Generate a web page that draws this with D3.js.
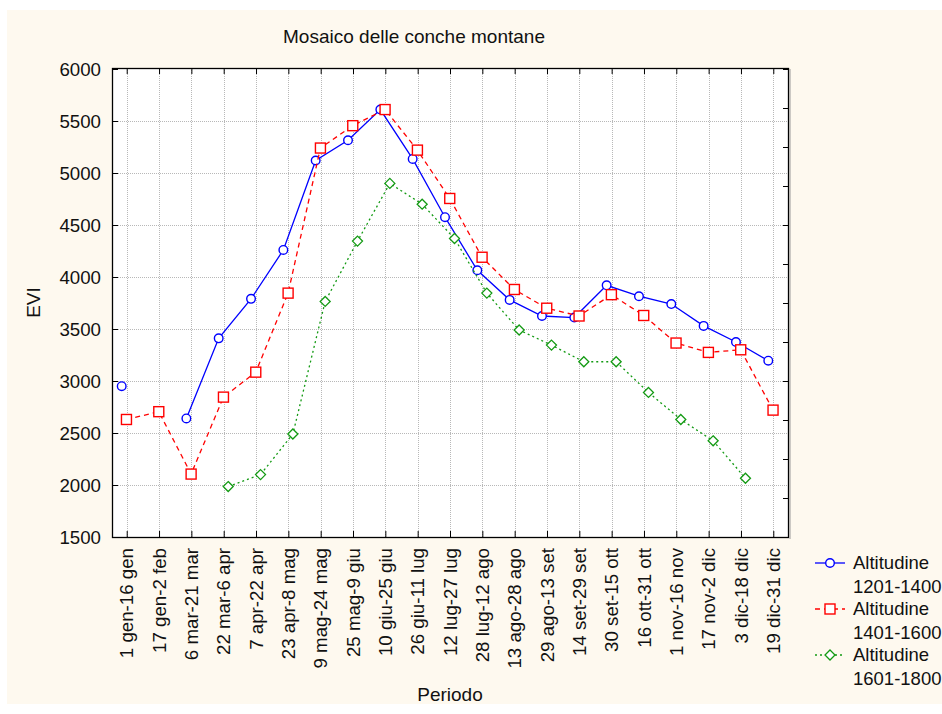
<!DOCTYPE html>
<html>
<head>
<meta charset="utf-8">
<script src="https://cdn.jsdelivr.net/npm/d3@7"></script>
<style>
  html, body { margin: 0; padding: 0; background: #ffffff; }
  svg { display: block; font-family: "Liberation Sans", Arial, sans-serif; }
</style>
</head>
<body>
<svg id="chart" width="942" height="714"></svg>
<script>
const categories = ["1 gen-16 gen","17 gen-2 feb","6 mar-21 mar","22 mar-6 apr","7 apr-22 apr","23 apr-8 mag","9 mag-24 mag","25 mag-9 giu","10 giu-25 giu","26 giu-11 lug","12 lug-27 lug","28 lug-12 ago","13 ago-28 ago","29 ago-13 set","14 set-29 set","30 set-15 ott","16 ott-31 ott","1 nov-16 nov","17 nov-2 dic","3 dic-18 dic","19 dic-31 dic"];
const alt1201 = [2950, null, 2640, 3410, 3790, 4260, 5120, 5315, 5610, 5135, 4575, 4065, 3780, 3625, 3610, 3920, 3815, 3740, 3530, 3375, 3195];
const alt1401 = [2630, 2705, 2105, 2845, 3085, 3845, 5240, 5455, 5610, 5220, 4755, 4190, 3880, 3700, 3625, 3830, 3630, 3365, 3275, 3300, 2720];
const alt1601 = [null, null, null, 1985, 2100, 2490, 3765, 4345, 4900, 4700, 4370, 3845, 3490, 3345, 3185, 3185, 2890, 2630, 2425, 2065, null];
const seriesNames = ["Altitudine 1201-1400", "Altitudine 1401-1600", "Altitudine 1601-1800"];
const yTicks = [1500, 2000, 2500, 3000, 3500, 4000, 4500, 5000, 5500, 6000];
const titleText = "Mosaico delle conche montane";
const xTitle = "Periodo";
const yTitle = "EVI";

const series = [
  { name: seriesNames[0], values: alt1201, color: "#0000ff", dash: null, marker: "circle" },
  { name: seriesNames[1], values: alt1401, color: "#ff0000", dash: "5,4", marker: "square" },
  { name: seriesNames[2], values: alt1601, color: "#139a13", dash: "2,3", marker: "diamond" }
];

const svg = d3.select("#chart");
const W = 942, H = 714;
const m = { left: 112, right: 154, top: 68, bottom: 177 };
const pw = W - m.left - m.right, ph = H - m.top - m.bottom;

// background panel
svg.append("rect").attr("x", 7).attr("y", 10).attr("width", W - 7).attr("height", 694).attr("fill", "#fef9ef");

const x = d3.scalePoint().domain(categories).range([m.left, m.left + pw]).padding(0.455);
const y = d3.scaleLinear().domain([1500, 6000]).range([m.top + ph, m.top + 1]);
const off = d3.scalePoint().domain(seriesNames).range([-5, 4.5]);
const yRight = d3.scaleLinear().domain([0, 12]).range([m.top + ph, m.top + 1]);

// plot area
svg.append("rect").attr("x", m.left).attr("y", m.top).attr("width", pw).attr("height", ph).attr("fill", "#ffffff");

// gridlines
const grid = svg.append("g").attr("stroke", "#b8b8b8").attr("stroke-dasharray", "1,1").attr("stroke-width", 1);
grid.selectAll("line.h").data(yTicks.slice(1, -1)).join("line")
  .attr("x1", m.left).attr("x2", m.left + pw)
  .attr("y1", d => Math.round(y(d)) + 0.5).attr("y2", d => Math.round(y(d)) + 0.5);
grid.selectAll("line.v").data(categories).join("line")
  .attr("x1", d => Math.round(x(d)) + 0.5).attr("x2", d => Math.round(x(d)) + 0.5)
  .attr("y1", m.top).attr("y2", m.top + ph);

// axes with inward ticks
const fontSize = 18.7;
const axL = svg.append("g").attr("transform", `translate(${m.left},0)`)
  .call(d3.axisRight(y).tickValues(yTicks).tickSize(6).tickFormat(""));
const axB = svg.append("g").attr("transform", `translate(0,${m.top + ph})`)
  .call(d3.axisTop(x).tickSize(6).tickFormat(""));
const axT = svg.append("g").attr("transform", `translate(0,${m.top})`)
  .call(d3.axisBottom(x).tickSize(6).tickFormat(""));
const axR = svg.append("g").attr("transform", `translate(${m.left + pw},0)`)
  .call(d3.axisLeft(yRight).ticks(12).tickSize(5).tickFormat(""));
[axL, axB, axT, axR].forEach(g => {
  g.select(".domain").remove();
  g.selectAll(".tick line").attr("stroke", "#000").attr("stroke-width", 1);
});

// frame
svg.append("rect").attr("x", m.left + 0.5).attr("y", m.top + 0.5).attr("width", pw).attr("height", ph)
  .attr("fill", "none").attr("stroke", "#000").attr("stroke-width", 1.3);
svg.append("line").attr("x1", m.left + pw + 2).attr("x2", m.left + pw + 2).attr("y1", m.top + 1).attr("y2", m.top + ph + 2)
  .attr("stroke", "#9a9a9a").attr("stroke-width", 1);

// tick labels
svg.append("g").selectAll("text").data(yTicks).join("text")
  .attr("x", m.left - 11).attr("y", d => y(d)).attr("dy", "0.35em")
  .attr("text-anchor", "end").attr("font-size", fontSize).attr("fill", "#111")
  .text(d => d);
svg.append("g").selectAll("text").data(categories).join("text")
  .attr("transform", d => `translate(${x(d)},${m.top + ph + 11}) rotate(-90)`)
  .attr("dy", "0.35em").attr("text-anchor", "end").attr("font-size", fontSize).attr("fill", "#111")
  .text(d => d);

// titles
svg.append("text").attr("x", 414).attr("y", 43).attr("text-anchor", "middle")
  .attr("font-size", 19).attr("fill", "#111").text(titleText);
svg.append("text").attr("x", m.left + pw / 2).attr("y", 701).attr("text-anchor", "middle")
  .attr("font-size", 19).attr("fill", "#111").text(xTitle);
svg.append("text").attr("transform", `translate(40,${m.top + ph / 2}) rotate(-90)`).attr("text-anchor", "middle")
  .attr("font-size", 19).attr("fill", "#111").text(yTitle);

function drawMarker(g, type, color) {
  if (type === "circle") {
    g.append("circle").attr("r", 4.3).attr("fill", "#fff").attr("stroke", color).attr("stroke-width", 1.4);
  } else if (type === "square") {
    g.append("rect").attr("x", -5).attr("y", -5).attr("width", 10).attr("height", 10)
      .attr("fill", "#fff").attr("stroke", color).attr("stroke-width", 1.4);
  } else {
    g.append("path").attr("d", "M0,-5L5,0L0,5L-5,0Z").attr("fill", "#fff").attr("stroke", color).attr("stroke-width", 1.3);
  }
}

// series
series.forEach(s => {
  const pts = categories.map((c, i) => ({ c, v: s.values[i] }));
  const line = d3.line().defined(d => d.v != null)
    .x(d => x(d.c) + off(s.name)).y(d => y(d.v));
  svg.append("path").datum(pts).attr("d", line).attr("fill", "none")
    .attr("stroke", s.color).attr("stroke-width", 1.3)
    .attr("stroke-dasharray", s.dash);
  const mg = svg.append("g");
  pts.filter(d => d.v != null).forEach(d => {
    const g = mg.append("g").attr("transform", `translate(${x(d.c) + off(s.name)},${y(d.v)})`);
    drawMarker(g, s.marker, s.color);
  });
});

// legend
const lg = svg.append("g");
series.forEach((s, i) => {
  const yy = 563 + i * 46;
  const g = lg.append("g").attr("transform", `translate(0,${yy})`);
  g.append("line").attr("x1", 815).attr("x2", 845).attr("y1", 0).attr("y2", 0)
    .attr("stroke", s.color).attr("stroke-width", 1.3).attr("stroke-dasharray", s.dash);
  const mk = g.append("g").attr("transform", "translate(830,0)");
  drawMarker(mk, s.marker, s.color);
  const parts = s.name.split(" ");
  const t = g.append("text").attr("x", 853).attr("y", 6).attr("font-size", 18.5).attr("fill", "#111");
  t.append("tspan").attr("x", 853).attr("dy", 0).text(parts[0]);
  t.append("tspan").attr("x", 853).attr("dy", 23.5).text(parts[1]);
});
</script>
</body>
</html>
